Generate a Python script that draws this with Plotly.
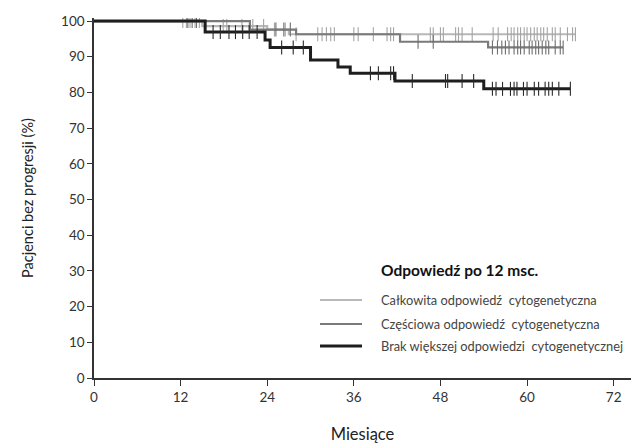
import plotly.graph_objects as go

# ---- data ----
x_ticks = [0, 12, 24, 36, 48, 60, 72]
y_ticks = [0, 10, 20, 30, 40, 50, 60, 70, 80, 90, 100]

series_names = [
    "Całkowita odpowiedź  cytogenetyczna",
    "Częściowa odpowiedź  cytogenetyczna",
    "Brak większej odpowiedzi  cytogenetycznej",
]
legend_title = "Odpowiedź po 12 msc."

# step times (months) and survival level (%) after each step
complete_t = [0, 15.0, 24.0, 27.0]
complete_s = [100, 98.6, 97.6, 96.3]
complete_end = 66.7
complete_cens = [12.3, 12.8, 13.3, 14.0, 14.6, 17.9, 18.4, 20.5, 22.0, 23.5, 25.0,
                 26.5, 28.0, 31.0, 31.6, 32.2, 32.8, 33.3, 36.0, 36.6, 38.7, 40.6,
                 41.1, 41.5, 46.6, 47.0, 48.0, 48.4, 50.1, 50.5, 51.0, 52.4, 55.3,
                 56.0, 57.3, 57.8, 58.2, 58.7, 59.1, 59.6, 60.0, 60.5, 61.0, 61.4,
                 61.9, 62.3, 62.8, 63.5, 63.9, 64.6, 65.6, 66.3, 66.7]

partial_t = [0, 21.6, 28.0, 42.4, 54.6]
partial_s = [100, 97.6, 96.3, 94.2, 92.6]
partial_end = 65.0
partial_cens = [13.0, 13.6, 14.2, 25.2, 26.3, 27.2, 44.9, 47.0, 55.2, 55.9, 56.5,
                57.0, 57.5, 58.2, 58.7, 59.1, 59.6, 60.3, 60.7, 61.2, 61.6, 62.1,
                62.6, 63.0, 63.9, 64.6, 65.0]

none_t = [0, 15.4, 23.7, 24.4, 30.0, 33.8, 35.5, 41.7, 54.0]
none_s = [100, 96.9, 94.7, 92.6, 89.1, 87.1, 85.4, 83.2, 81.0]
none_end = 66.0
none_cens = [16.5, 17.5, 18.7, 19.6, 20.6, 21.5, 22.6, 26.0, 27.6, 29.0, 38.3, 39.4,
             41.1, 41.5, 44.1, 48.7, 49.0, 51.0, 52.6, 55.2, 55.7, 56.6, 57.7, 58.2,
             58.6, 59.5, 60.0, 61.0, 61.6, 62.5, 63.0, 63.5, 64.4, 66.0]

# ---- styles ----
line_colors = ["#b8b8b8", "#7a7a7a", "#1e1e1e"]
tick_colors = ["#a4a4a4", "#6e6e6e", "#2a2a2a"]
line_widths = [2.2, 2.2, 3.0]

FONT = "Lato"


def level_at(ts, ss, t):
    v = ss[0]
    for ti, si in zip(ts, ss):
        if t >= ti:
            v = si
    return v


fig = go.Figure()
groups = [
    (complete_t, complete_s, complete_end, complete_cens),
    (partial_t, partial_s, partial_end, partial_cens),
    (none_t, none_s, none_end, none_cens),
]
for i, (ts, ss, end, cens) in enumerate(groups):
    fig.add_trace(go.Scatter(
        x=ts + [end], y=ss + [ss[-1]], mode="lines", line_shape="hv",
        line=dict(color=line_colors[i], width=line_widths[i]),
        name=series_names[i], showlegend=False, hoverinfo="skip"))
    fig.add_trace(go.Scatter(
        x=cens, y=[level_at(ts, ss, c) for c in cens], mode="markers",
        marker=dict(symbol="line-ns-open", size=10, color=tick_colors[i],
                    line=dict(color=tick_colors[i], width=1.1)),
        showlegend=False, hoverinfo="skip"))

W, H = 636, 446
L, R, T, B = 94, 5, 18, 68

fig.update_layout(
    width=W, height=H,
    margin=dict(l=L, r=R, t=T, b=B),
    paper_bgcolor="white", plot_bgcolor="white",
    font=dict(family=FONT, color="#333333", size=13),
    xaxis=dict(range=[0, 74.4], tickvals=x_ticks, ticks="outside", ticklen=6,
               tickwidth=1.3, tickcolor="#333", showline=True, linecolor="#333",
               linewidth=1.5, showgrid=False, zeroline=False,
               tickfont=dict(size=13.5, color="#333"),
               title=dict(text="Miesiące", font=dict(size=16.5, color="#222"), standoff=24)),
    yaxis=dict(range=[0, 100.85], tickvals=y_ticks, ticks="outside", ticklen=5,
               tickwidth=1.3, tickcolor="#333", showline=True, linecolor="#333",
               linewidth=1.5, showgrid=False, zeroline=False,
               tickfont=dict(size=13.5, color="#333"),
               title=dict(text="Pacjenci bez progresji (%)", font=dict(size=14.5, color="#222"),
                          standoff=24)),
)

# legend drawn with shapes + annotations
pw, ph = W - L - R, H - T - B


def px(xp):
    return (xp - L) / pw


def py(yp):
    return (H - B - yp) / ph


fig.add_annotation(x=px(379), y=py(270), xref="paper", yref="paper",
                   text="<b>" + legend_title + "</b>",
                   showarrow=False, xanchor="left", yanchor="middle",
                   font=dict(family=FONT, size=15.5, color="#111"))
rows_y = [300, 324, 346]
for i, name in enumerate(series_names):
    fig.add_shape(type="line", xref="paper", yref="paper", x0=px(320), x1=px(362),
                  y0=py(rows_y[i]), y1=py(rows_y[i]),
                  line=dict(color=line_colors[i], width=line_widths[i]))
    fig.add_annotation(x=px(379), y=py(rows_y[i]), xref="paper", yref="paper", text=name,
                       showarrow=False, xanchor="left", yanchor="middle",
                       font=dict(family=FONT, size=12.8, color="#444"))

fig.write_html("out.html")
